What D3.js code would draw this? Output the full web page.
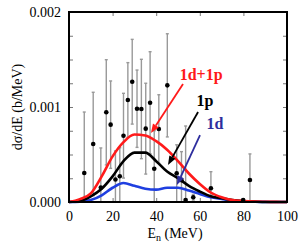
<!DOCTYPE html>
<html>
<head>
<meta charset="utf-8">
<script src="https://cdn.jsdelivr.net/npm/d3@7"></script>
<style>
  body { margin: 0; background: #fff; }
  svg { display: block; }
  svg text { font-family: "Liberation Serif", "Times New Roman", serif; }
</style>
</head>
<body>
<svg id="chart"></svg>
<script>
const width = 300;
const height = 247;
const margin = { top: 12, right: 13, bottom: 45, left: 69 };
const serif = "Liberation Serif, Times New Roman, serif";

// measured points (E in MeV, dsigma/dE in b/MeV)
const expE   = [7.0, 11.1, 14.6, 17.1, 19.1, 21.3, 23.3, 25.0, 27.0, 29.0, 31.2, 33.2, 35.2, 37.2, 39.1, 41.2, 45.1, 49.4, 51.6, 53.5, 57.0, 65.1, 79.9, 83.0];
const expV   = [0.000305, 0.000611, 0.000153, 0.000944, 0.000814, 0.000237, 0.000271, 0.000698, 0.001074, 0.001266, 0.000982, 0.000979, 0.000772, 0.001045, 0.00035, 0.000768, 0.001228, 0.000302, 0.00023, 0.00002, 0.00005, 0.000144, 0.00002, 0.000232];
const expErr = [0.000642, 0.000544, 0.000416, 0.000554, 0.00046, 0.0003, 0.0003, 0.000446, 0.000393, 0.000446, 0.000407, 0.000523, 0.000478, 0.000537, 0.0004, 0.000361, 0.000543, 0.0003, 0.0003, 0.00078, 0.00003, 0.000175, 0.00001, 0.000274];

// calculated spectra
const curveE   = [0, 5, 10, 15, 20, 25, 30, 35, 40, 45, 50, 55, 60, 65, 70, 75, 80, 85, 90, 95, 100];
const sumCurve = [0, 0.00003, 0.00009, 0.00027, 0.00048, 0.00063, 0.00071, 0.0007, 0.00064, 0.00055, 0.00043, 0.0003, 0.00019, 0.0001, 0.00005, 0.00002, 0.00001, 0.000004, 0.000002, 0.000001, 0];
const pCurve   = [0, 0.00001, 0.00006, 0.00014, 0.00027, 0.00043, 0.00052, 0.00052, 0.00043, 0.00032, 0.00025, 0.00017, 0.00011, 0.00006, 0.00004, 0.00002, 0.00001, 0.000005, 0, 0, 0];
const dCurve   = [0, 0.000003, 0.00002, 0.00007, 0.00015, 0.0002, 0.00017, 0.00014, 0.00013, 0.00015, 0.00015, 0.00012, 0.000084, 0.00005, 0.000032, 0.000015, 0.000006, 0.000002, 0.000001, 0, 0];

const xTicks = [0, 20, 40, 60, 80, 100];
const yTicks = [0, 0.001, 0.002];
const yMinor = [0, 0.00025, 0.0005, 0.00075, 0.001, 0.00125, 0.0015, 0.00175, 0.002];

// labels + arrows, in data units
const labels = [
  { text: "1d+1p", color: "#ff1a1a", E: 60.6, v: 0.001284, from: [52.3, 0.001242], to: [37.6, 0.000726] },
  { text: "1p",    color: "#000000", E: 62.4, v: 0.00101,  from: [59.2, 0.000947], to: [45.4, 0.00039] },
  { text: "1d",    color: "#2e2e9e", E: 67.0, v: 0.000768, from: [60.1, 0.000705], to: [49.5, 0.000179] }
];

const svg = d3.select("#chart").attr("width", width).attr("height", height);

const x = d3.scaleLinear().domain([0, 100]).range([margin.left, width - margin.right]);
const y = d3.scaleLinear().domain([0, 0.002]).range([height - margin.bottom, margin.top]);

// minor ticks, inward, on all four sides
function ticks(axis, tx, ty) {
  svg.append("g")
      .attr("transform", `translate(${tx},${ty})`)
      .call(axis.tickSize(-4).tickFormat(""))
      .call(g => g.select(".domain").remove())
      .selectAll("line").attr("stroke", "#777");
}
ticks(d3.axisLeft(y).tickValues(yMinor), margin.left, 0);
ticks(d3.axisRight(y).tickValues(yMinor), width - margin.right, 0);
ticks(d3.axisTop(x).tickValues(xTicks), 0, margin.top);
ticks(d3.axisBottom(x).tickValues(xTicks), 0, height - margin.bottom);

// tick labels
svg.append("g")
    .attr("transform", `translate(${margin.left},0)`)
    .call(d3.axisLeft(y).tickValues(yTicks).tickSize(0).tickPadding(8).tickFormat(d3.format(".3f")))
    .attr("font-family", serif)
    .call(g => g.select(".domain").remove())
    .selectAll("text").attr("font-size", 14).attr("fill", "#000");
svg.append("g")
    .attr("transform", `translate(0,${height - margin.bottom})`)
    .call(d3.axisBottom(x).tickValues(xTicks).tickSize(0).tickPadding(9))
    .attr("font-family", serif)
    .call(g => g.select(".domain").remove())
    .selectAll("text").attr("font-size", 14).attr("fill", "#000");

// axis titles
const xt = svg.append("text")
    .attr("x", 175).attr("y", 238)
    .attr("text-anchor", "middle")
    .attr("font-family", serif)
    .attr("font-size", 14);
xt.append("tspan").text("E");
xt.append("tspan").attr("font-size", 10).attr("dy", 3).text("n");
xt.append("tspan").attr("dy", -3).text(" (MeV)");

svg.append("text")
    .attr("transform", `translate(22,${(margin.top + height - margin.bottom) / 2}) rotate(-90)`)
    .attr("text-anchor", "middle")
    .attr("font-family", serif)
    .attr("font-size", 14)
    .text("dσ/dE (b/MeV)");

// error bars
const pts = expE.map((e, i) => ({ e, v: expV[i], err: expErr[i] }));
const bars = svg.append("g").attr("stroke", "#999").attr("stroke-width", 1.4);
pts.forEach(d => {
  const x0 = x(d.e);
  const yt = y(Math.min(0.002, d.v + d.err));
  const yb = y(Math.max(0, d.v - d.err));
  bars.append("line").attr("x1", x0).attr("x2", x0).attr("y1", yt).attr("y2", yb);
  bars.append("line").attr("x1", x0 - 1.5).attr("x2", x0 + 1.5).attr("y1", yt).attr("y2", yt);
  if (d.v - d.err > 0)
    bars.append("line").attr("x1", x0 - 1.5).attr("x2", x0 + 1.5).attr("y1", yb).attr("y2", yb);
});

// curves
const line = d3.line().x(d => x(d[0])).y(d => y(d[1])).curve(d3.curveMonotoneX);
const series = [
  { vals: dCurve, color: "#1f3fe0" },
  { vals: pCurve, color: "#000" },
  { vals: sumCurve, color: "#ff1a1a" }
];
svg.append("g").selectAll("path")
  .data(series)
  .join("path")
    .attr("d", s => line(curveE.map((e, i) => [e, s.vals[i]])))
    .attr("fill", "none")
    .attr("stroke", s => s.color)
    .attr("stroke-width", 2.6);

// points
svg.append("g").selectAll("circle")
  .data(pts)
  .join("circle")
    .attr("cx", d => x(d.e))
    .attr("cy", d => y(d.v))
    .attr("r", 2.3)
    .attr("fill", "#000");

// annotations
labels.forEach(l => {
  const x1 = x(l.from[0]), y1 = y(l.from[1]);
  const x2 = x(l.to[0]), y2 = y(l.to[1]);
  const ang = Math.atan2(y2 - y1, x2 - x1);
  const len = 9, half = 3.5;
  const bx = x2 - len * Math.cos(ang), by = y2 - len * Math.sin(ang);
  svg.append("line")
      .attr("x1", x1).attr("y1", y1).attr("x2", bx).attr("y2", by)
      .attr("stroke", l.color).attr("stroke-width", 1.8);
  svg.append("path")
      .attr("d", `M${x2},${y2}L${bx - half * Math.sin(ang)},${by + half * Math.cos(ang)}L${bx + half * Math.sin(ang)},${by - half * Math.cos(ang)}Z`)
      .attr("fill", l.color);
  svg.append("text")
      .attr("x", x(l.E)).attr("y", y(l.v))
      .attr("text-anchor", "middle")
      .attr("font-family", serif)
      .attr("font-size", 16)
      .attr("font-weight", "bold")
      .attr("fill", l.color)
      .text(l.text);
});

// frame
svg.append("rect")
    .attr("x", margin.left).attr("y", margin.top)
    .attr("width", width - margin.left - margin.right)
    .attr("height", height - margin.top - margin.bottom)
    .attr("fill", "none")
    .attr("stroke", "#000")
    .attr("stroke-width", 2);
</script>
</body>
</html>
